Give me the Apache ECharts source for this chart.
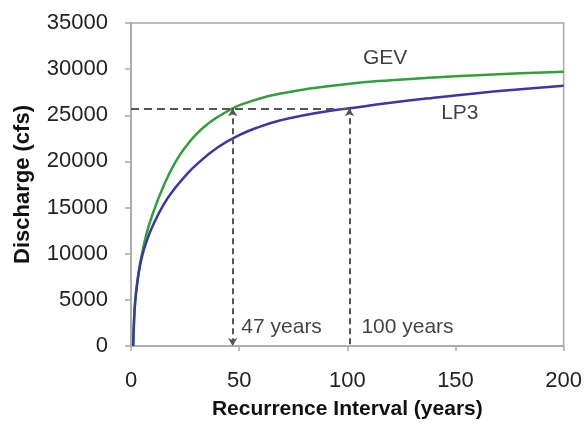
<!DOCTYPE html>
<html>
<head>
<meta charset="utf-8">
<script src="https://cdn.jsdelivr.net/npm/echarts@6/dist/echarts.min.js"></script>
<style>html,body{margin:0;padding:0;background:#fff;}#c{width:585px;height:425px;}</style>
</head>
<body>
<div id="c"></div>
<script>
// Recurrence interval (years) and discharge (cfs)
const gevT = [1, 1.2, 1.5, 2, 3, 4, 5, 7, 10, 15, 20, 25, 30, 36, 40, 47, 50, 60, 70, 80, 100, 120, 140, 160, 180, 200];
const gevQ = [0, 1500, 3200, 5000, 7100, 8700, 9900, 12000, 14300, 17300, 19700, 21500, 22900, 24150, 24800, 25760, 26080, 26850, 27380, 27800, 28400, 28800, 29100, 29350, 29550, 29720];
const lp3T = [1, 1.2, 1.5, 2, 3, 4, 5, 7, 10, 15, 20, 25, 30, 40, 50, 60, 70, 80, 90, 101, 120, 140, 160, 180, 200];
const lp3Q = [0, 1500, 3200, 5000, 7000, 8500, 9600, 11200, 13000, 15300, 17000, 18400, 19600, 21500, 22850, 23800, 24500, 25000, 25400, 25760, 26350, 26900, 27400, 27820, 28200];
const refQ = 25760;          // design discharge
const gevYears = 47;         // GEV recurrence at refQ
const lp3Years = 101;        // LP3 recurrence at refQ (labelled 100 years)
const xTicks = {min: 0, max: 200, interval: 50};
const yTicks = {min: 0, max: 35000, interval: 5000};
const curveLabels = [
  {name: 'GEV', value: [117.5, 31200]},
  {name: 'LP3', value: [152, 25200]}
];
const yearLabels = [
  {name: '47 years', value: [51, 2060]},
  {name: '100 years', value: [106.5, 2060]}
];

const pair = (xs, ys) => xs.map((x, i) => [x, ys[i]]);
const font = 'Liberation Sans, Arial, sans-serif';
const dashColor = '#555';

const chart = echarts.init(document.getElementById('c'));
chart.setOption({
  backgroundColor: '#fff',
  animation: false,
  grid: {left: 131, right: 20, top: 23, bottom: 79, show: true, borderColor: '#a8a8a8', borderWidth: 1.5, backgroundColor: '#fff'},
  xAxis: {
    type: 'value', min: xTicks.min, max: xTicks.max, interval: xTicks.interval,
    name: 'Recurrence Interval (years)', nameLocation: 'middle', nameGap: 53,
    nameTextStyle: {fontFamily: font, fontSize: 21, fontWeight: 'bold', color: '#111'},
    axisLine: {onZero: false, lineStyle: {color: '#a8a8a8', width: 1.5}},
    axisTick: {show: true, length: 5, lineStyle: {color: '#a8a8a8', width: 1.5}},
    axisLabel: {fontFamily: font, fontSize: 22, color: '#222', margin: 24, formatter: v => String(v)},
    splitLine: {show: false}
  },
  yAxis: {
    type: 'value', min: yTicks.min, max: yTicks.max, interval: yTicks.interval,
    name: 'Discharge (cfs)', nameLocation: 'middle', nameGap: 97, nameRotate: 90,
    nameTextStyle: {fontFamily: font, fontSize: 22, fontWeight: 'bold', color: '#111'},
    axisLine: {show: true, lineStyle: {color: '#a8a8a8', width: 1.5}},
    axisTick: {show: true, length: 6, lineStyle: {color: '#a8a8a8', width: 1.5}},
    axisLabel: {fontFamily: font, fontSize: 22, color: '#222', margin: 23, formatter: v => String(v)},
    splitLine: {show: false}
  },
  series: [
    {
      type: 'line', name: 'GEV', data: pair(gevT, gevQ), smooth: 0.5, showSymbol: false,
      lineStyle: {color: '#32a03a', width: 2.5}, z: 3
    },
    {
      type: 'line', name: 'LP3', data: pair(lp3T, lp3Q), smooth: 0.5, showSymbol: false,
      lineStyle: {color: '#3b36a8', width: 2.5}, z: 3
    },
    {
      type: 'line', data: [], silent: true,
      markLine: {
        silent: true, animation: false, label: {show: false},
        data: [
          [{coord: [0, refQ], symbol: 'none'}, {coord: [lp3Years, refQ], symbol: 'none'}]
        ],
        lineStyle: {color: dashColor, width: 2, type: [8, 5]}
      }
    },
    {
      type: 'line', data: [], silent: true,
      markLine: {
        silent: true, animation: false, label: {show: false}, symbolSize: [7, 8],
        data: [
          [{coord: [gevYears, refQ], symbol: 'arrow'}, {coord: [gevYears, 0], symbol: 'arrow'}],
          [{coord: [lp3Years, refQ], symbol: 'arrow'}, {coord: [lp3Years, 0], symbol: 'none'}]
        ],
        lineStyle: {color: dashColor, width: 2, type: [6, 4]}
      }
    },
    {
      type: 'scatter', data: curveLabels, symbolSize: 0, silent: true,
      label: {show: true, position: 'inside', formatter: p => p.name, fontFamily: font, fontSize: 21, color: '#111'}
    },
    {
      type: 'scatter', data: yearLabels, symbolSize: 0, silent: true,
      label: {show: true, position: 'right', distance: 0, formatter: p => p.name, fontFamily: font, fontSize: 21, color: '#111'}
    }
  ]
});
</script>
</body>
</html>
